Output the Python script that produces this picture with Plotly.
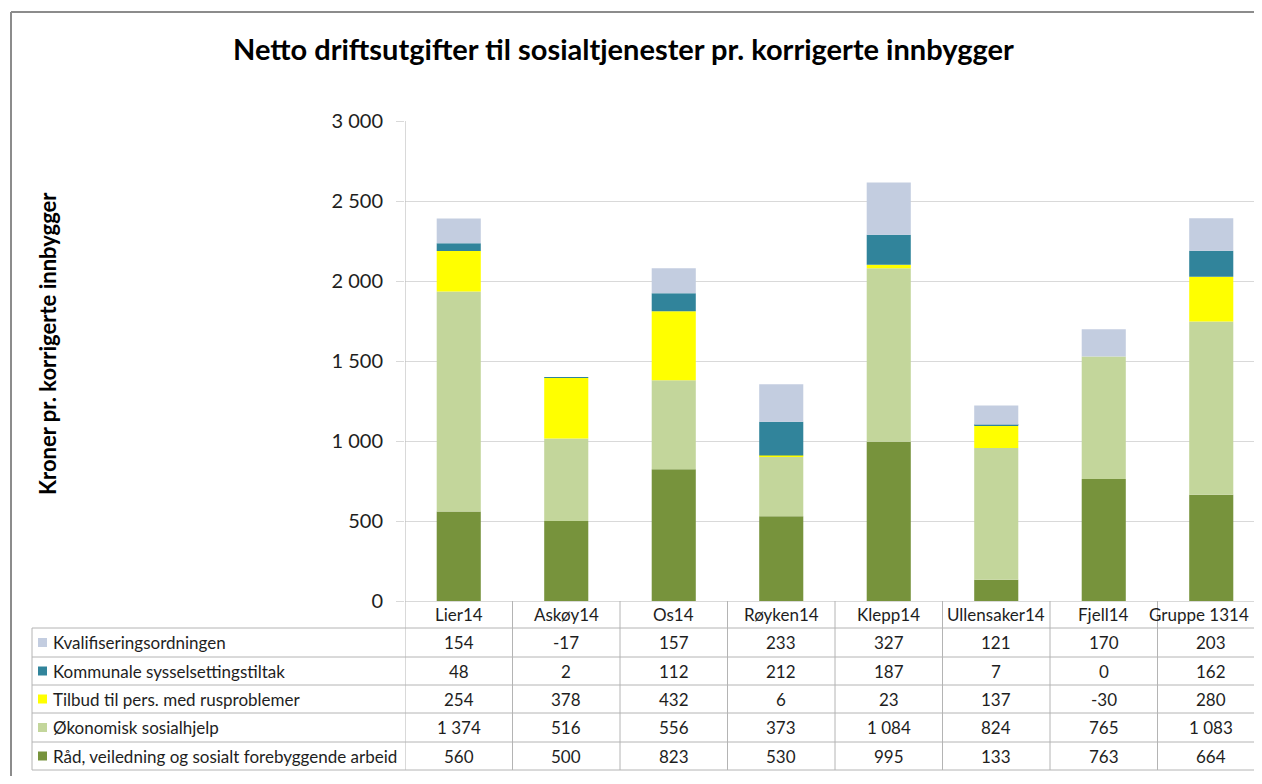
import plotly.graph_objects as go

# ---------------- data ----------------
categories = ["Lier14", "Askøy14", "Os14", "Røyken14", "Klepp14",
              "Ullensaker14", "Fjell14", "Gruppe 1314"]

kvalifisering = [154, -17, 157, 233, 327, 121, 170, 203]
kommunale = [48, 2, 112, 212, 187, 7, 0, 162]
tilbud_rus = [254, 378, 432, 6, 23, 137, -30, 280]
okonomisk = [1374, 516, 556, 373, 1084, 824, 765, 1083]
raad = [560, 500, 823, 530, 995, 133, 763, 664]

# table order (top to bottom)
series_names = ["Kvalifiseringsordningen",
                "Kommunale sysselsettingstiltak",
                "Tilbud til pers. med rusproblemer",
                "Økonomisk sosialhjelp",
                "Råd, veiledning og sosialt forebyggende arbeid"]
series_values = [kvalifisering, kommunale, tilbud_rus, okonomisk, raad]
series_colors = ["#c3cde0", "#31849b", "#ffff00", "#c3d69b", "#77933c"]

title_text = "Netto driftsutgifter til sosialtjenester pr. korrigerte innbygger"
ytitle_text = "Kroner pr. korrigerte innbygger"
y_tickvals = [0, 500, 1000, 1500, 2000, 2500, 3000]

FONT = "Lato, Liberation Sans, Arial, sans-serif"
TXT = "#1e1e1e"
GRID = "#d9d9d9"
TLINE = "#b4b4b4"

OFF = 8  # page body margin offset
W, H = 1262 - 2 * OFF, 784 - 2 * OFF
ML, MR = 405 - OFF, 0
MT = 121 - OFF
PLOT_BOTTOM = 601 - OFF
MB = H - PLOT_BOTTOM
PW = W - ML - MR
PH = H - MT - MB
CAT_W = 107.5  # pixels per category in the reference


def px_x(p):
    """screen pixel x -> paper"""
    return (p - OFF - ML) / PW


def px_y(p):
    """screen pixel y -> paper"""
    return (PLOT_BOTTOM - (p - OFF)) / PH


def fmt(v):
    s = f"{abs(v):,}".replace(",", " ")
    return ("-" if v < 0 else "") + s


fig = go.Figure()

# bars: bottom to top = reverse of table order
for name, vals, col in reversed(list(zip(series_names, series_values, series_colors))):
    fig.add_trace(go.Bar(x=categories, y=vals, name=name, marker_color=col,
                         marker_line_width=0, showlegend=False))

shapes = []
annotations = []

# outer chart frame (kept inside the figure area)
shapes.append(dict(type="line", xref="paper", yref="paper",
                   x0=px_x(11), x1=1.0, y0=px_y(12), y1=px_y(12),
                   line=dict(color="#8c8c8c", width=2)))
shapes.append(dict(type="line", xref="paper", yref="paper",
                   x0=px_x(11), x1=px_x(11), y0=px_y(12), y1=px_y(776),
                   line=dict(color="#8c8c8c", width=2)))

# table geometry (screen pixel rows)
row_edges = [628, 657, 685, 713, 742, 770]
header_center = 614

# horizontal table lines
for ry in row_edges:
    shapes.append(dict(type="line", xref="paper", yref="paper",
                       x0=px_x(32), x1=1.0, y0=px_y(ry), y1=px_y(ry),
                       line=dict(color=TLINE, width=1)))
# left border of table
shapes.append(dict(type="line", xref="paper", yref="paper",
                   x0=px_x(32), x1=px_x(32), y0=px_y(row_edges[0]), y1=px_y(row_edges[-1]),
                   line=dict(color=TLINE, width=1)))
# axis line continued through table
shapes.append(dict(type="line", xref="x", yref="paper",
                   x0=-0.5, x1=-0.5, y0=1, y1=px_y(row_edges[-1]),
                   line=dict(color=TLINE, width=1)))
# category separators in the table
for i in range(len(categories) - 1):
    shapes.append(dict(type="line", xref="x", yref="paper",
                       x0=i + 0.5, x1=i + 0.5, y0=0, y1=px_y(row_edges[-1]),
                       line=dict(color=TLINE, width=1)))

TSIZE = 17
# header labels
for i, c in enumerate(categories):
    last = i == len(categories) - 1
    annotations.append(dict(x=c, xref="x", y=px_y(header_center), yref="paper",
                            text=c, showarrow=False,
                            xanchor="right" if last else "center",
                            xshift=40 if last else 0,
                            yanchor="middle",
                            font=dict(family=FONT, size=TSIZE, color=TXT)))

# table rows
for r, (name, vals, col) in enumerate(zip(series_names, series_values, series_colors)):
    cy = (row_edges[r] + row_edges[r + 1]) / 2
    shapes.append(dict(type="rect", xref="paper", yref="paper",
                       x0=px_x(38), x1=px_x(47), y0=px_y(cy - 4.5), y1=px_y(cy + 4.5),
                       fillcolor=col, line=dict(width=0)))
    annotations.append(dict(x=px_x(51), xref="paper", y=px_y(cy), yref="paper",
                            text=name, showarrow=False, xanchor="left", yanchor="middle",
                            font=dict(family=FONT, size=TSIZE, color=TXT)))
    for c, v in zip(categories, vals):
        annotations.append(dict(x=c, xref="x", y=px_y(cy), yref="paper",
                                text=fmt(v), showarrow=False, xanchor="center",
                                yanchor="middle",
                                font=dict(family=FONT, size=TSIZE, color=TXT)))

# title
annotations.append(dict(x=px_x(623), xref="paper", y=px_y(48), yref="paper",
                        text="<b>" + title_text + "</b>", showarrow=False,
                        xanchor="center", yanchor="middle",
                        font=dict(family=FONT, size=29, color="#000000")))
# y axis title
annotations.append(dict(x=px_x(47), xref="paper", y=px_y(344), yref="paper",
                        text="<b>" + ytitle_text + "</b>", showarrow=False,
                        textangle=-90, xanchor="center", yanchor="middle",
                        font=dict(family=FONT, size=22, color="#000000")))

fig.update_layout(
    width=W, height=H,
    margin=dict(l=ML, r=MR, t=MT, b=MB, pad=0),
    paper_bgcolor="white", plot_bgcolor="white",
    barmode="relative", bargap=0.59,
    shapes=shapes, annotations=annotations,
    showlegend=False,
    xaxis=dict(type="category", categoryorder="array", categoryarray=categories,
               range=[-0.5, -0.5 + PW / CAT_W], showticklabels=False, ticks="",
               showgrid=False, zeroline=False, showline=False, fixedrange=True),
    yaxis=dict(range=[0, 3000], tickvals=y_tickvals,
               ticktext=[fmt(v) for v in y_tickvals],
               showgrid=True, gridcolor=GRID, gridwidth=1,
               zeroline=True, zerolinecolor=GRID, zerolinewidth=1,
               showline=False, ticks="outside", ticklen=8, tickcolor=GRID,
               ticklabelstandoff=9,
               tickfont=dict(family=FONT, size=20, color=TXT), fixedrange=True),
)

fig.write_html("out.html", config={"displayModeBar": False})
